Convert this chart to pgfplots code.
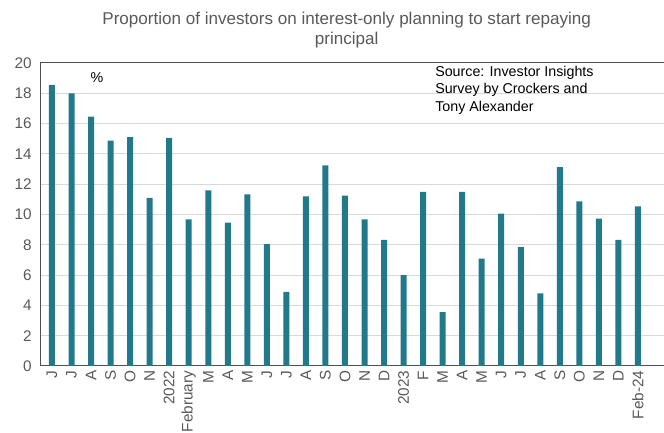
\documentclass[border=0pt]{standalone}
\usepackage{pgfplots}
\pgfplotsset{compat=1.18}
\usepackage{pgfplotstable}
\usepackage{fontspec}
\setmainfont{Liberation Sans}
\definecolor{barc}{RGB}{33,121,139}
\definecolor{txt}{RGB}{89,89,89}
\definecolor{gridc}{RGB}{217,217,217}
\definecolor{axc}{RGB}{80,80,80}
\pgfplotstableread{
idx val
0 18.55
1 18.0
2 16.46
3 14.87
4 15.1
5 11.1
6 15.05
7 9.68
8 11.6
9 9.46
10 11.33
11 8.05
12 4.9
13 11.2
14 13.25
15 11.24
16 9.68
17 8.32
18 6.0
19 11.5
20 3.56
21 11.5
22 7.08
23 10.05
24 7.85
25 4.8
26 13.13
27 10.87
28 9.73
29 8.32
30 10.54
}\datatab
\begin{document}
\begin{tikzpicture}
\useasboundingbox (0,0) rectangle (498pt,324pt);
\begin{axis}[
  at={(30.75pt,49.5pt)}, anchor=south west,
  scale only axis, width=471.75pt, height=227.25pt,
  xmin=-0.563, xmax=31.64, ymin=0, ymax=20,
  ytick={0,2,...,20},
  xtick=data,
  xticklabels={J,J,A,S,O,N,2022,February,M,A,M,J,J,A,S,O,N,D,2023,F,M,A,M,J,J,A,S,O,N,D,Feb-24},
  xticklabel style={rotate=90, anchor=east, font=\fontsize{11.5pt}{13pt}\selectfont, text=txt},
  yticklabel style={font=\fontsize{11.5pt}{13pt}\selectfont, text=txt, xshift=-3.5pt},
  /pgf/number format/assume math mode=true,
  major tick length=0pt,
  ymajorgrids, grid style={gridc, line width=0.75pt},
  axis line style={axc, line width=0.75pt},
  axis on top=false,
  clip=false,
]
\addplot[ybar, bar width=4.5pt, fill=barc, draw=none] table[x=idx, y=val] {\datatab};
\end{axis}
\node[text=txt, font=\fontsize{12.8pt}{15pt}\selectfont, align=center, anchor=north, inner sep=0pt] at (260pt,315pt) {Proportion of investors on interest-only planning to start repaying\\principal};
\node[text=black, font=\fontsize{10.7pt}{12pt}\selectfont] at (72.75pt,265.5pt) {\%};
\node[text=black, font=\fontsize{10.7pt}{13pt}\selectfont, align=left, anchor=north west, inner sep=0pt] at (326.25pt,274.5pt) {Source: Investor Insights\\Survey by Crockers and\\Tony Alexander};
\end{tikzpicture}
\end{document}
